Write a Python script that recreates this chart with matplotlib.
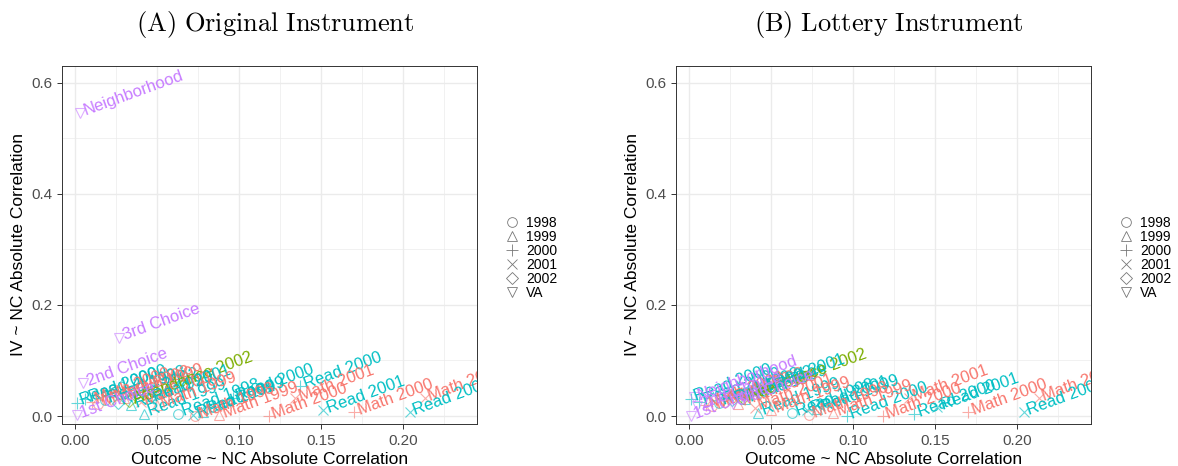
import matplotlib

matplotlib.use("Agg")
import matplotlib.pyplot as plt
from matplotlib.lines import Line2D
from matplotlib.ticker import MultipleLocator

plt.rcParams["font.family"] = ["Liberation Sans", "DejaVu Sans"]
plt.rcParams["mathtext.fontset"] = "cm"

# one row per negative-control variable
labels = [
    "Math 2001", "Read 2001", "Math 2000", "Read 2001", "Read 2000",
    "Math 2001", "Math 2000", "Read 2000", "Math 1999", "Read 1999",
    "Read 2001", "Read 1998", "Math 1998", "Read 1999",
    "Read 2000", "Read 2000", "Math 2000", "Math 1998", "Read 1998",
    "Math 2002", "Read 2002", "Math 1999", "Read 1999", "Attendance 2002",
    "Math 2001", "Read 2001", "Math 1999",
    "Neighborhood", "3rd Choice", "2nd Choice", "1st Choice",
]
groups = [
    "Math", "Read", "Math", "Read", "Read",
    "Math", "Math", "Read", "Math", "Read",
    "Read", "Read", "Math", "Read",
    "Read", "Read", "Math", "Math", "Read",
    "Math", "Read", "Math", "Read", "Other",
    "Math", "Read", "Math",
    "VA", "VA", "VA", "VA",
]
years = [
    "2001", "2001", "2000", "2001", "2000",
    "2001", "2000", "2000", "1999", "1999",
    "2001", "1998", "1998", "1999",
    "2000", "2000", "2000", "1998", "1998",
    "2002", "2002", "1999", "1999", "2002",
    "2001", "2001", "1999",
    "VA", "VA", "VA", "VA",
]
# Outcome ~ NC absolute correlation (same for both instruments)
outcome_corr = [
    0.213, 0.204, 0.170, 0.151, 0.137,
    0.134, 0.118, 0.096, 0.088, 0.078,
    0.072, 0.063, 0.073, 0.042,
    0.001, 0.006, 0.010, 0.014, 0.018,
    0.022, 0.026, 0.030, 0.034, 0.033,
    0.040, 0.045, 0.050,
    0.003, 0.027, 0.005, 0.001,
]
# IV ~ NC absolute correlation, original instrument
iv_corr_original = [
    0.032, 0.007, 0.007, 0.011, 0.054,
    0.032, 0.000, 0.032, 0.002, 0.008,
    0.002, 0.004, 0.000, 0.004,
    0.024, 0.030, 0.026, 0.022, 0.028,
    0.030, 0.024, 0.033, 0.020, 0.027,
    0.025, 0.030, 0.020,
    0.546, 0.141, 0.059, 0.001,
]
# IV ~ NC absolute correlation, lottery instrument
iv_corr_lottery = [
    0.032, 0.007, 0.007, 0.016, 0.003,
    0.032, 0.000, 0.000, 0.005, 0.012,
    0.010, 0.005, 0.002, 0.006,
    0.031, 0.025, 0.020, 0.018, 0.024,
    0.026, 0.028, 0.022, 0.030, 0.032,
    0.015, 0.050, 0.010,
    0.034, 0.022, 0.018, 0.000,
]

group_colors = {"Math": "#F8766D", "Other": "#7CAE00", "Read": "#00BFC4", "VA": "#C77CFF"}
year_markers = {"1998": "o", "1999": "^", "2000": "+", "2001": "x", "2002": "D", "VA": "v"}
marker_sizes = {"o": 7, "^": 7, "+": 8.5, "x": 7, "D": 6, "v": 7}

fig = plt.figure(figsize=(11.78, 4.66), dpi=100)

panels = [
    ("(A)\\ Original\\ Instrument", iv_corr_original, 62),
    ("(B)\\ Lottery\\ Instrument", iv_corr_lottery, 676),
]

W, H = 1178, 466
for title, ycorr, left_px in panels:
    ax = fig.add_axes([left_px / W, 42 / H, 415 / W, 358 / H])
    ax.set_xlim(-0.008, 0.245)
    ax.set_ylim(-0.0144, 0.63)
    ax.xaxis.set_major_locator(MultipleLocator(0.05))
    ax.xaxis.set_minor_locator(MultipleLocator(0.025))
    ax.yaxis.set_major_locator(MultipleLocator(0.2))
    ax.yaxis.set_minor_locator(MultipleLocator(0.1))
    ax.xaxis.set_major_formatter(lambda v, p: f"{v:.2f}")
    ax.yaxis.set_major_formatter(lambda v, p: f"{v:.1f}")
    ax.grid(which="major", color="#EBEBEB", linewidth=1.0)
    ax.grid(which="minor", color="#EBEBEB", linewidth=0.5)
    ax.set_axisbelow(True)
    for s in ax.spines.values():
        s.set_color("#333333")
        s.set_linewidth(0.7)
    ax.tick_params(which="major", length=3.5, width=0.7, color="#333333",
                   labelcolor="#4D4D4D", labelsize=11)
    ax.tick_params(which="minor", length=0)

    for lab, g, yr, x, y in zip(labels, groups, years, outcome_corr, ycorr):
        col = group_colors[g]
        m = year_markers[yr]
        ax.plot(x, y, marker=m, ms=marker_sizes[m], mfc="none", mec=col,
                mew=0.8, alpha=0.6, linestyle="none")
        # label starts just past the marker, along the text direction
        ax.annotate(lab, (x, y), xytext=(3, 1.1), textcoords="offset points",
                    color=col, fontsize=12, rotation=20, rotation_mode="anchor",
                    ha="left", va="center", clip_on=True)

    ax.set_xlabel("Outcome ~ NC Absolute Correlation", fontsize=12.5, labelpad=3)
    ax.set_ylabel("IV ~ NC Absolute Correlation", fontsize=12.5, labelpad=4)

    cx = (left_px + 213) / W
    fig.text(cx, 1 - 24 / H, f"$\\mathrm{{{title}}}$", fontsize=19,
             ha="center", va="center")

    handles = [
        Line2D([], [], marker=m, ms=marker_sizes[m], mfc="none", mec="#777777",
               mew=0.6, linestyle="none", label=yr)
        for yr, m in year_markers.items()
    ]
    ax.legend(handles=handles, loc="center left", bbox_to_anchor=(1.055, 0.465),
              frameon=False, fontsize=10, handlelength=1.0, handletextpad=0.5,
              labelspacing=0.0, borderaxespad=0)

fig.savefig("out.png", dpi=100)
